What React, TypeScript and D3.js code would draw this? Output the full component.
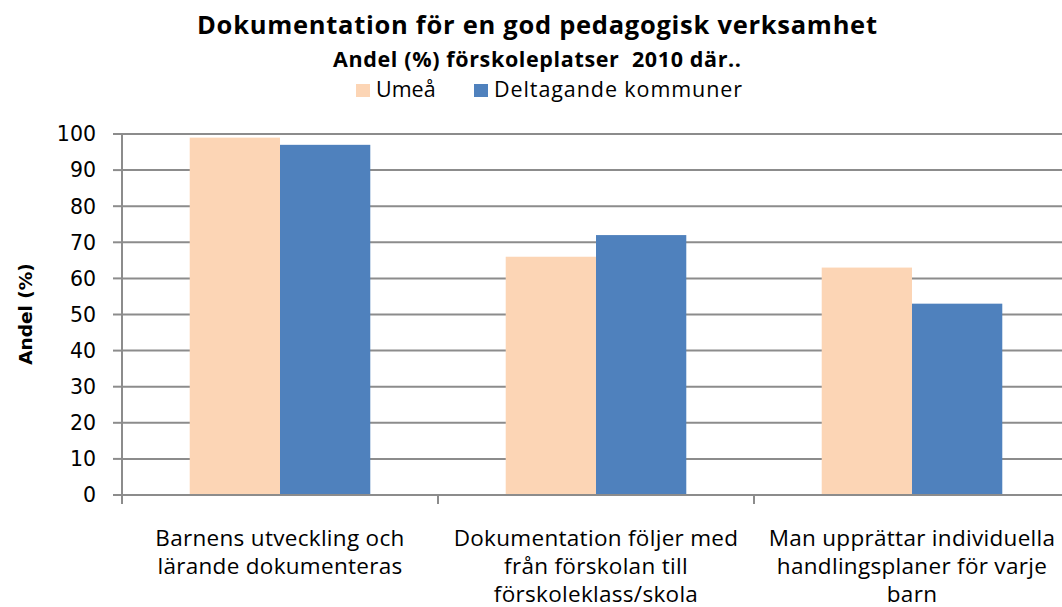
import * as d3 from 'd3';

// Chart data
const categories = [
  'Barnens utveckling och lärande dokumenteras',
  'Dokumentation följer med från förskolan till förskoleklass/skola',
  'Man upprättar individuella handlingsplaner för varje barn',
];
const categoryLines = [
  ['Barnens utveckling och', 'lärande dokumenteras'],
  ['Dokumentation följer med', 'från förskolan till', 'förskoleklass/skola'],
  ['Man upprättar individuella', 'handlingsplaner för varje', 'barn'],
];
const seriesNames = ['Umeå', 'Deltagande kommuner'];
const umeaValues = [99, 66, 63];
const deltagandeValues = [97, 72, 53];
const yTicks = [0, 10, 20, 30, 40, 50, 60, 70, 80, 90, 100];

const COLORS = ['#FCD5B5', '#4F81BD'];
const WIDTH = 1062;
const HEIGHT = 607;
const LABEL_FONT = '"Open Sans", "Noto Sans", sans-serif';
const TICK_FONT = '"DejaVu Sans", Verdana, sans-serif';
const GRID = '#8C8C8C';

export default function App() {
  const plot = { left: 122, right: 1070, top: 134, bottom: 495 };

  const x = d3.scaleBand<string>()
    .domain(categories)
    .range([plot.left, plot.right])
    .padding(0);

  // Excel-style 150% gap between groups
  const xInner = d3.scaleBand<string>()
    .domain(seriesNames)
    .range([0, x.bandwidth()])
    .paddingInner(0)
    .paddingOuter(0.75);

  const y = d3.scaleLinear().domain([0, 100]).range([plot.bottom, plot.top]);

  const series = [umeaValues, deltagandeValues];

  // category boundaries for the x-axis tick marks
  const boundaries = categories.map((c) => x(c) as number).concat([plot.right]);

  return (
    <svg
      width={WIDTH}
      height={HEIGHT}
      style={{ position: 'absolute', left: 0, top: 0, background: '#fff', overflow: 'hidden' }}
    >
      {/* titles */}
      <text
        x={537}
        y={33.5}
        textAnchor="middle"
        fontFamily={LABEL_FONT}
        fontWeight={700}
        fontSize={25.5}
        textLength={680}
        lengthAdjust="spacing"
        fill="#000"
      >
        Dokumentation för en god pedagogisk verksamhet
      </text>
      <text
        x={537}
        y={66.5}
        textAnchor="middle"
        fontFamily={LABEL_FONT}
        fontWeight={700}
        fontSize={21.5}
        textLength={408}
        lengthAdjust="spacing"
        fill="#000"
      >
        {'Andel (%) förskoleplatser\u00A0 2010 där..'}
      </text>

      {/* legend */}
      <g>
        <rect x={356} y={84} width={14} height={13} fill={COLORS[0]} />
        <text x={376} y={97} fontFamily={LABEL_FONT} fontSize={21.5} fill="#000">{seriesNames[0]}</text>
        <rect x={474} y={84} width={14} height={13} fill={COLORS[1]} />
        <text
          x={494}
          y={97}
          fontFamily={LABEL_FONT}
          fontSize={21.5}
          textLength={248}
          lengthAdjust="spacing"
          fill="#000"
        >
          {seriesNames[1]}
        </text>
      </g>

      {/* gridlines and y ticks */}
      {yTicks.map((t) => (
        <g key={t}>
          <line x1={plot.left} x2={WIDTH} y1={y(t)} y2={y(t)} stroke={GRID} strokeWidth={2} />
          <line x1={113} x2={plot.left} y1={y(t)} y2={y(t)} stroke={GRID} strokeWidth={2} />
          <text
            x={96}
            y={y(t)}
            dy="0.36em"
            textAnchor="end"
            fontFamily={TICK_FONT}
            fontSize={20.5}
            fill="#000"
          >
            {t}
          </text>
        </g>
      ))}

      {/* bars */}
      {categories.map((c, i) => (
        <g key={c} transform={`translate(${x(c)},0)`}>
          {seriesNames.map((s, j) => (
            <rect
              key={s}
              x={xInner(s)}
              y={y(series[j][i])}
              width={xInner.bandwidth()}
              height={y(0) - y(series[j][i])}
              fill={COLORS[j]}
            />
          ))}
        </g>
      ))}

      {/* axes */}
      <line x1={plot.left} x2={plot.left} y1={plot.top} y2={plot.bottom + 9} stroke={GRID} strokeWidth={2} />
      <line x1={plot.left} x2={WIDTH} y1={plot.bottom} y2={plot.bottom} stroke={GRID} strokeWidth={2} />
      {boundaries.map((b, i) => (
        <line key={i} x1={b} x2={b} y1={plot.bottom} y2={plot.bottom + 9} stroke={GRID} strokeWidth={2} />
      ))}

      {/* category labels */}
      {categories.map((c, i) => (
        <text
          key={c}
          x={(x(c) as number) + x.bandwidth() / 2}
          y={546}
          textAnchor="middle"
          fontFamily={LABEL_FONT}
          fontSize={22.5}
          letterSpacing={0.3}
          fill="#000"
        >
          {categoryLines[i].map((line, k) => (
            <tspan key={k} x={(x(c) as number) + x.bandwidth() / 2} dy={k === 0 ? 0 : 28.2}>
              {line}
            </tspan>
          ))}
        </text>
      ))}

      {/* y axis title */}
      <text
        transform="translate(32,314) rotate(-90)"
        textAnchor="middle"
        fontFamily={TICK_FONT}
        fontWeight={700}
        fontSize={18.5}
        fill="#000"
      >
        Andel (%)
      </text>
    </svg>
  );
}
